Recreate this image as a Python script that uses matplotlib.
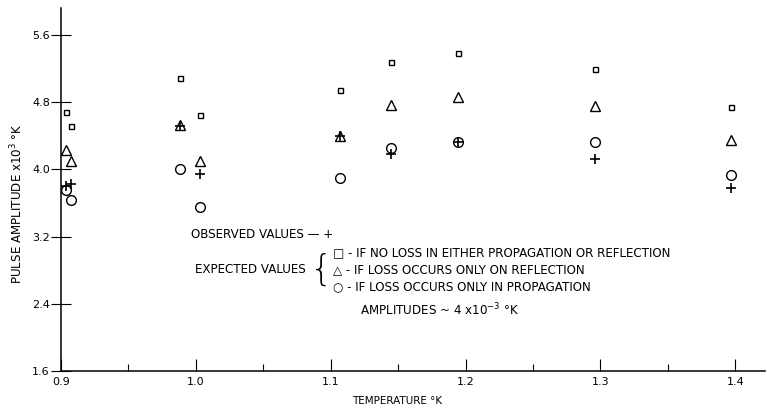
import numpy as np
import matplotlib
matplotlib.use("Agg")
import matplotlib.pyplot as plt
from matplotlib.ticker import MultipleLocator

# temperature of each measurement group (deg K)
temperature = [0.9035, 0.9072, 0.9885, 1.0029, 1.107, 1.145, 1.194, 1.2956, 1.3965]

# pulse amplitudes x10^3 deg K
observed = [3.80, 3.83, 4.52, 3.95, 4.40, 4.18, 4.33, 4.12, 3.78]
no_loss = [4.68, 4.52, 5.09, 4.65, 4.94, 5.28, 5.38, 5.19, 4.74]
loss_reflection = [4.23, 4.10, 4.53, 4.10, 4.40, 4.77, 4.86, 4.75, 4.35]
loss_propagation = [3.76, 3.63, 4.00, 3.55, 3.90, 4.25, 4.33, 4.32, 3.93]

y_ticks = [1.6, 2.4, 3.2, 4.0, 4.8, 5.6]
x_ticks = [0.9, 1.0, 1.1, 1.2, 1.3, 1.4]
x_labels = ["0.9", "1.0", "1.1", "1.2", "1.3", "1.4"]

plt.rcParams["font.family"] = ["DejaVu Sans"]
fig = plt.figure(figsize=(7.67, 4.11), dpi=100)
ax = fig.add_axes([61 / 767, 1 - 371 / 411, 704 / 767, 363 / 411])

ink = "black"
ax.plot(temperature, no_loss, ls="none", marker="s", ms=3.6, mfc="white", mec=ink, mew=1)
ax.plot(temperature, loss_reflection, ls="none", marker="^", ms=6.5, mfc="white", mec=ink, mew=1)
ax.plot(temperature, loss_propagation, ls="none", marker="o", ms=7, mfc="white", mec=ink, mew=1)
ax.plot(temperature, observed, ls="none", marker="+", ms=7, mec=ink, mew=1.2)

ax.set_xlim(0.9, 1.422)
ax.set_ylim(1.6, 5.92)
ax.set_xticks(x_ticks)
ax.set_xticklabels(x_labels)
ax.xaxis.set_minor_locator(MultipleLocator(0.05))
ax.set_yticks(y_ticks)

for side in ["top", "right"]:
    ax.spines[side].set_visible(False)
for side in ["left", "bottom"]:
    ax.spines[side].set_linewidth(1.1)

ax.tick_params(axis="x", which="major", direction="in", length=9, width=0.8, labelsize=8, pad=4)
ax.tick_params(axis="x", which="minor", direction="in", length=5, width=0.8)
ax.tick_params(axis="y", which="major", direction="inout", length=14, width=0.8, labelsize=8, pad=1)

ax.set_xlabel("TEMPERATURE °K", fontsize=7.5)
ax.xaxis.set_label_coords(0.477, -0.07)
ax.set_ylabel("PULSE AMPLITUDE x10$^3$ °K", fontsize=8.6)
ax.yaxis.set_label_coords(-0.05, 0.46)

fs = 8.6
ax.text(0.184, 0.377, "OBSERVED VALUES — +", transform=ax.transAxes, fontsize=fs, va="center")
ax.text(0.386, 0.326, "□ - IF NO LOSS IN EITHER PROPAGATION OR REFLECTION",
        transform=ax.transAxes, fontsize=fs, va="center")
ax.text(0.190, 0.280, "EXPECTED VALUES", transform=ax.transAxes, fontsize=fs, va="center")
ax.text(0.370, 0.280, "{", transform=ax.transAxes, fontsize=26, va="center", ha="center",
        fontweight="light")
ax.text(0.386, 0.280, "△ - IF LOSS OCCURS ONLY ON REFLECTION",
        transform=ax.transAxes, fontsize=fs, va="center")
ax.text(0.386, 0.232, "○ - IF LOSS OCCURS ONLY IN PROPAGATION",
        transform=ax.transAxes, fontsize=fs, va="center")
ax.text(0.425, 0.168, "AMPLITUDES ~ 4 x10$^{-3}$ °K", transform=ax.transAxes, fontsize=fs, va="center")

fig.savefig("out.png", dpi=100)
